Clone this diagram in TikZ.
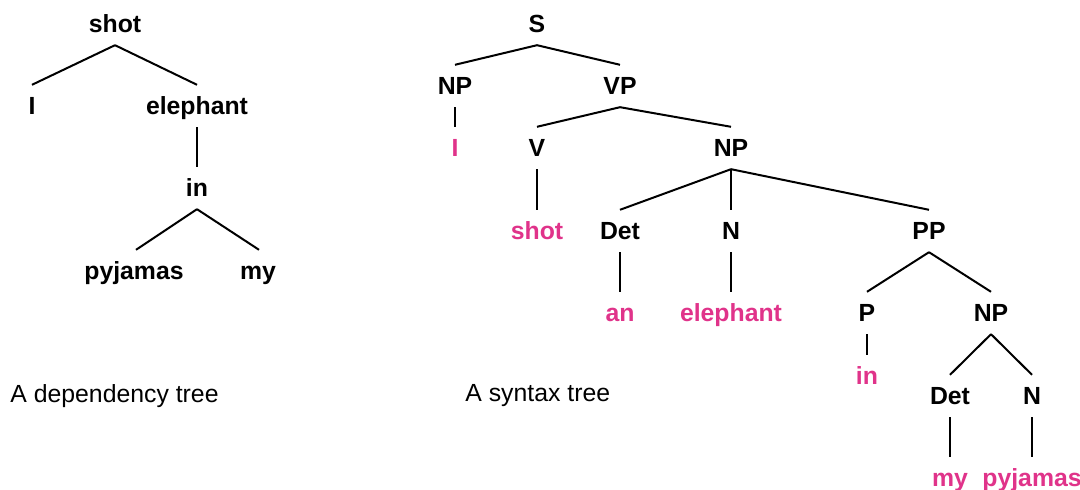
\documentclass[tikz,border=0pt]{standalone}
\usepackage{fontspec}
\setmainfont{Liberation Sans}
\definecolor{wordpink}{HTML}{E0338A}
\tikzset{
  lbl/.style={font=\fontsize{12.4}{14}\selectfont\bfseries, text height=8.8pt, text depth=0pt, inner xsep=0pt, inner ysep=6pt},
  word/.style={lbl, text=wordpink},
  edge/.style={line width=1pt},
  caption/.style={font=\fontsize{12.4}{14}\selectfont, anchor=west, inner sep=0pt}
}
\begin{document}
\begin{tikzpicture}[x=.5pt, y=-.5pt]
\useasboundingbox (0,0) rectangle (1080,490);
% dependency tree
\node[lbl] (dshot) at (115,24) {shot};
\node[lbl] (dI) at (32,106) {I};
\node[lbl] (deleph) at (197,106) {elephant};
\node[lbl] (din) at (197,188) {in};
\node[lbl] (dpyj) at (134,271) {pyjamas};
\node[lbl] (dmy) at (258,271) {my};
\draw[edge] (dshot.south) -- (dI.north);
\draw[edge] (dshot.south) -- (deleph.north);
\draw[edge] (deleph.south) -- (din.north);
\draw[edge] (din.south) -- ([xshift=1pt]dpyj.north);
\draw[edge] (din.south) -- ([xshift=.5pt]dmy.north);
\node[caption] (dcap) at (10,396) {A dependency tree};
% syntax tree
\node[lbl] (S) at (537,24) {S};
\node[lbl] (np1) at (455,86) {NP};
\node[lbl] (vp) at (620,86) {VP};
\node[word] (i) at (455,148) {I};
\node[lbl] (v) at (537,148) {V};
\node[lbl] (np2) at (731,148) {NP};
\node[word] (shot) at (537,231) {shot};
\node[lbl] (det1) at (620,231) {Det};
\node[lbl] (n1) at (731,231) {N};
\node[lbl] (pp) at (929,231) {PP};
\node[word] (an) at (620,313) {an};
\node[word] (eleph) at (731,313) {elephant};
\node[lbl] (p) at (867,313) {P};
\node[lbl] (np3) at (991,313) {NP};
\node[word] (in) at (867,376) {in};
\node[lbl] (det2) at (950,396) {Det};
\node[lbl] (n2) at (1032,396) {N};
\node[word] (my) at (950,478) {my};
\node[word] (pyj) at (1032,478) {pyjamas};
\draw[edge] (S.south) -- (np1.north);
\draw[edge] (S.south) -- (vp.north);
\draw[edge] (np1.south) -- (i.north);
\draw[edge] (vp.south) -- (v.north);
\draw[edge] (vp.south) -- (np2.north);
\draw[edge] (v.south) -- (shot.north);
\draw[edge] (np2.south) -- (det1.north);
\draw[edge] (np2.south) -- (n1.north);
\draw[edge] (np2.south) -- (pp.north);
\draw[edge] (det1.south) -- (an.north);
\draw[edge] (n1.south) -- (eleph.north);
\draw[edge] (pp.south) -- (p.north);
\draw[edge] (pp.south) -- (np3.north);
\draw[edge] (p.south) -- (in.north);
\draw[edge] (np3.south) -- (det2.north);
\draw[edge] (np3.south) -- (n2.north);
\draw[edge] (det2.south) -- (my.north);
\draw[edge] (n2.south) -- (pyj.north);
\node[caption] (scap) at (465,396) {A syntax tree};
\end{tikzpicture}
\end{document}
